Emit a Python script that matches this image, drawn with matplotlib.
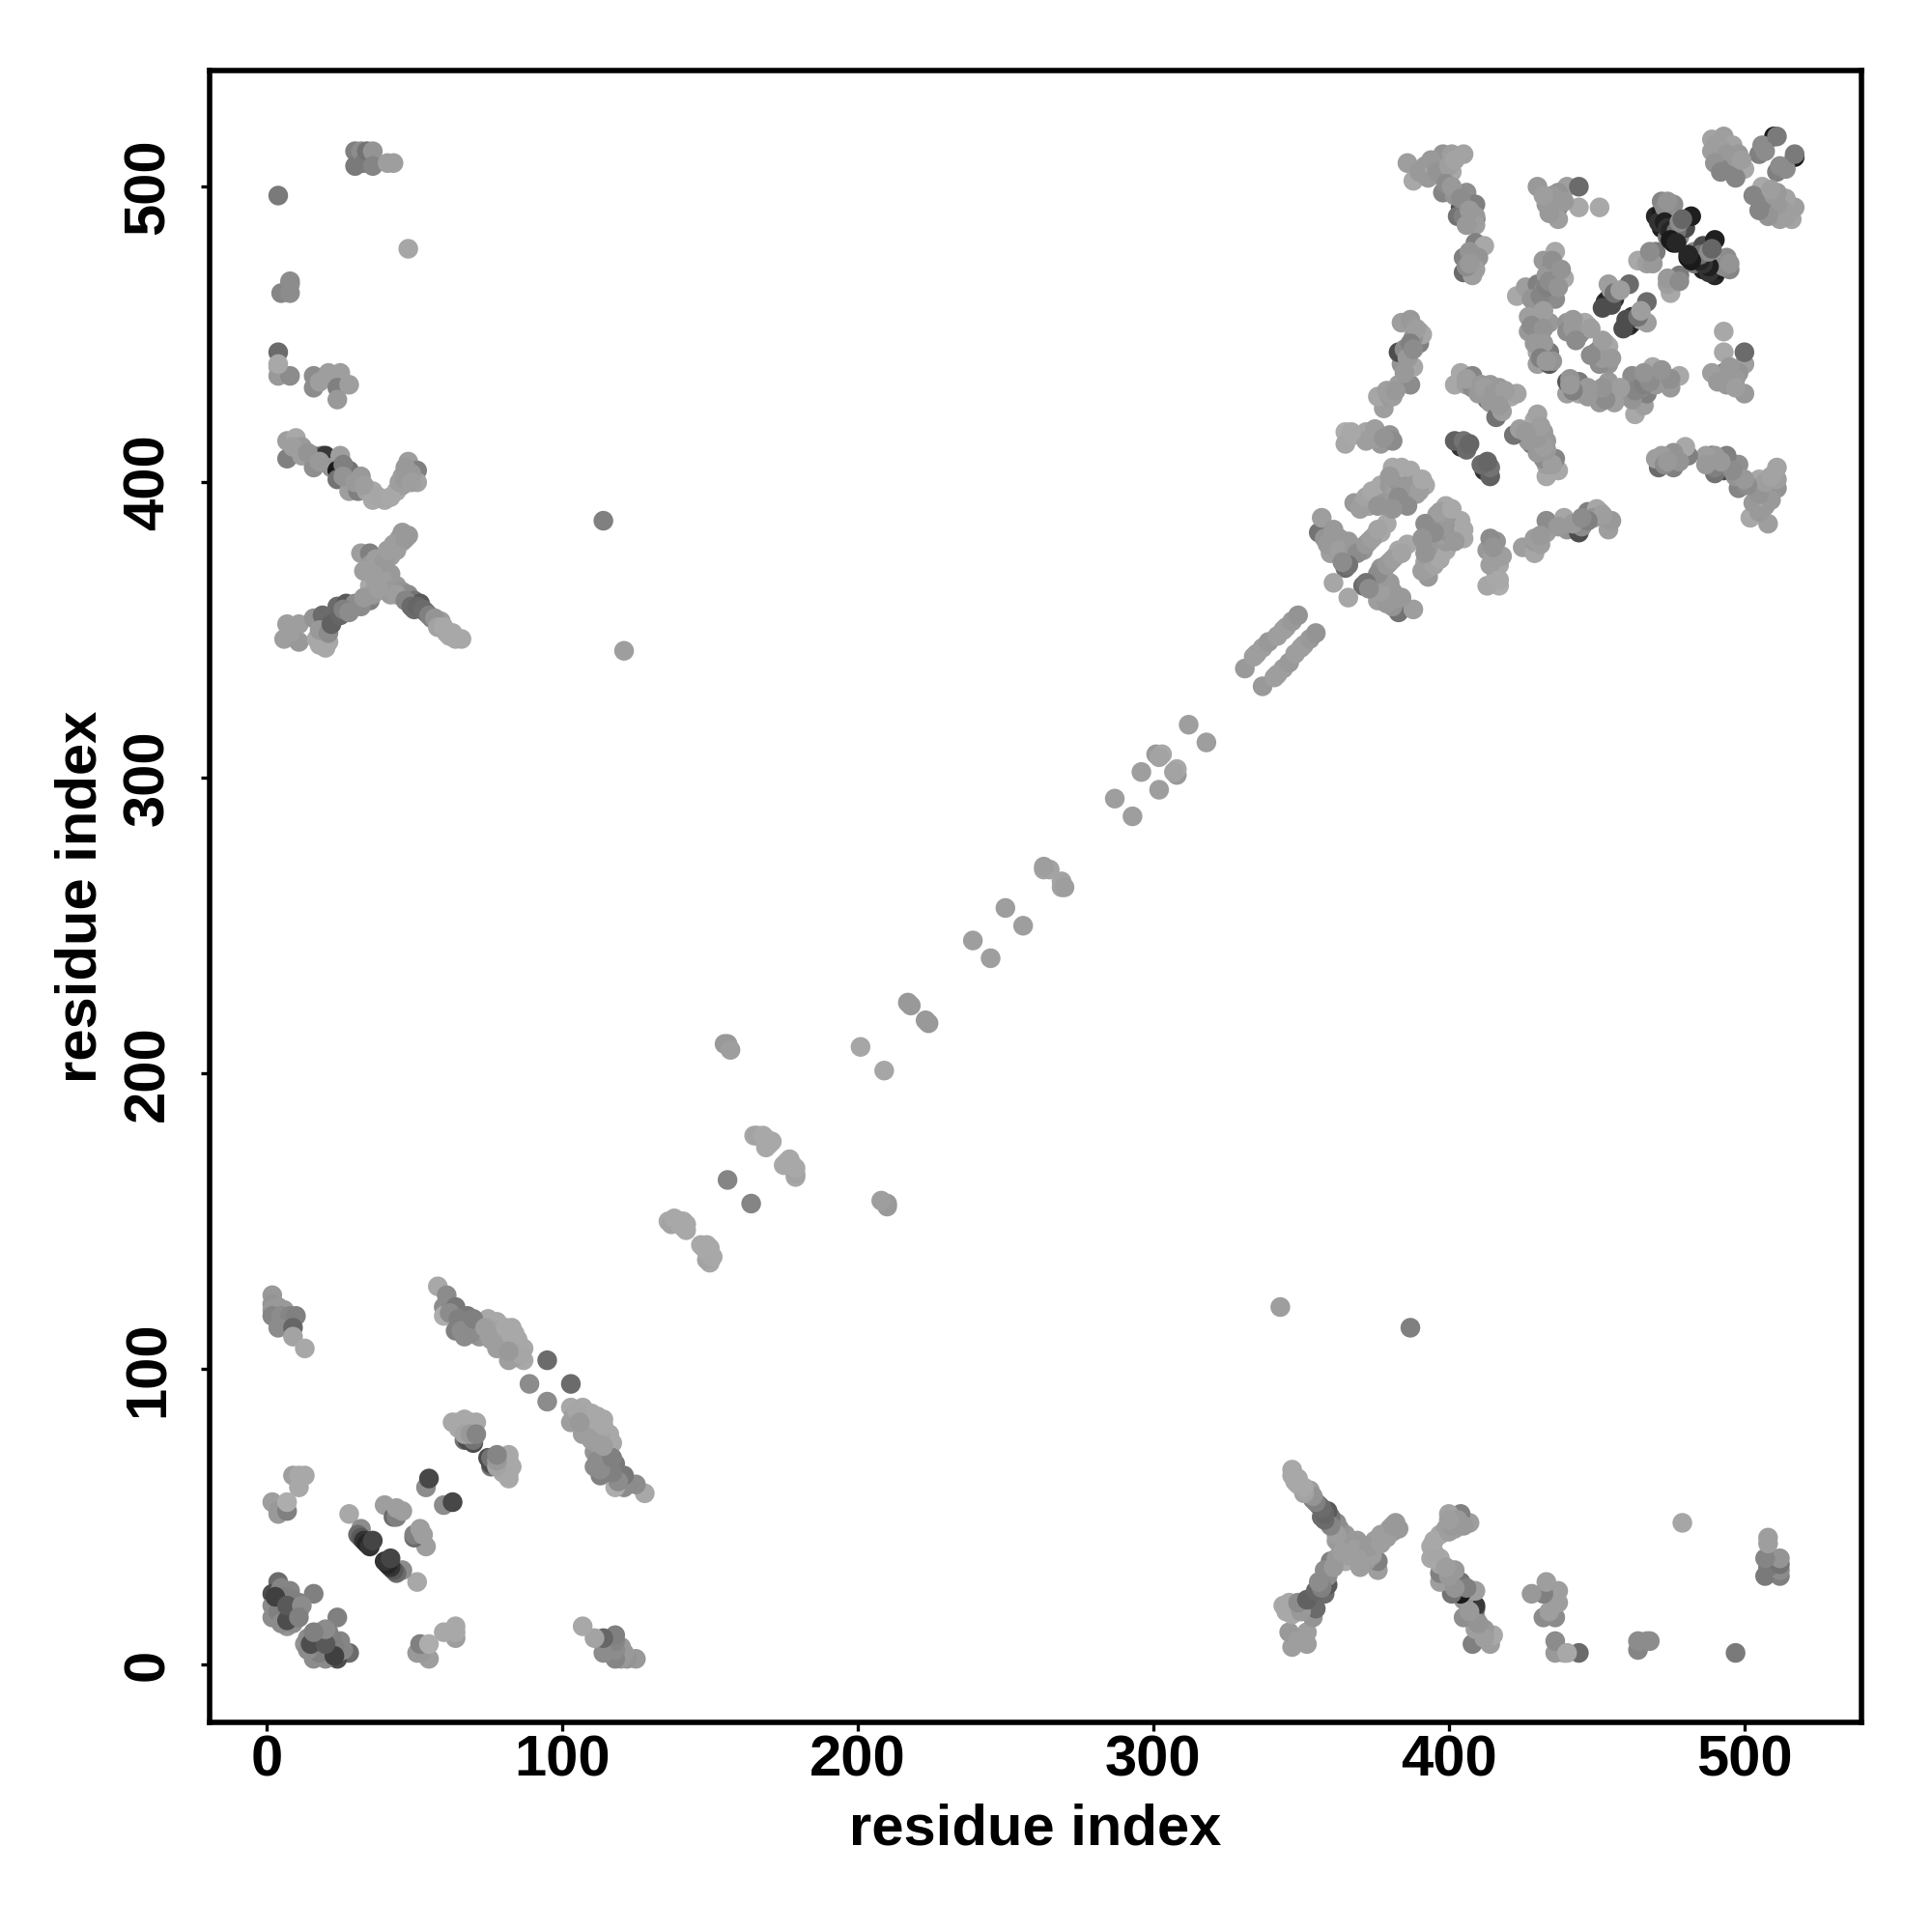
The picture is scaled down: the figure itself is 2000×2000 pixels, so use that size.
import matplotlib
matplotlib.use("Agg")
import matplotlib.pyplot as plt

# contacts as (residue_i, residue_j, grey level); the map is symmetric
termini_a = [(2,125,.6),(2,122,.58),(4,121,.6),(2,120,.6),(6,120,.6),(2,118,.52),(5,118,.55),(8,118,.52),(10,118,.5),(4,114,.55),(9,114,.4),(9,111,.64),(13,107,.66)]
hairpin_a = [(58,128,.66),(61,125,.55),(60,121,.55),(64,121,.47),(60,118,.68),(68,118,.47),(64,113,.5),(67,111,.55),(66,116,.6),(70,115,.6),(72,115,.58),(72,111,.58),(75,117,.66),(78,116,.66),(78,113,.64),(75,112,.62),(78,107,.62),(80,110,.64),(83,114,.66),(84,112,.66),(83,107,.64),(85,110,.66),(87,107,.66),(85,105,.65),(82,103,.62),(87,103,.66),(95,103,.42),(89,95,.55),
             (62,119,.55),(65,117,.5),(66,113,.55),(69,112,.55),(70,117,.5),(74,114,.62),(76,110,.62),(81,114,.66),(81,108,.62),(83,111,.66),(84,104,.62),(86,105,.65),(82,106,.6)]
hairpin_b = [(67,76,.45),(68,76,.3),(69,76,.3),(70,75,.3),(70,76,.45),(63,82,.66),(65,82,.66),(67,83,.66),(69,82,.66),(71,82,.66),(65,80,.66),(67,78,.64),(69,78,.6),(71,78,.52)]
short_a = [(9,64,.62),(11,64,.66),(13,64,.66),(11,60,.66),(2,55,.62),(4,52,.6),(4,51,.6),(7,52,.5),(7,55,.68)]
short_b = [(28,51,.66),(32,46,.55),(31,44,.42),(32,43,.35),(33,42,.2),(34,41,.15),(35,40,.2),(36,42,.27),(40,54,.62),(43,50,.42),(44,50,.5),(44,53,.62),(46,52,.62),(54,60,.55),(55,63,.28)]
short_c = [(4,28,.42),(2,24,.3),(3,21,.55),(2,20,.55),(2,16,.55),(4,24,.5),(5,21,.35),(6,17,.3),(7,19,.4),(8,25,.52),(8,20,.5),(11,21,.5),(7,13,.58),(10,16,.5),(16,24,.5),
           (5,26,.52),(6,23,.5),(4,18,.5),(9,22,.5),(11,18,.5),(5,14,.55),(8,15,.45),(9,14,.55),(3,23,.25),(7,15,.3),(7,20,.35),(12,20,.55),(11,16,.5)]
short_d = [(156,210,.6),(155,210,.6),(157,208,.62),(201,209,.65),(156,164,.52)]
beta_a = [(136,150,.66),(137,149,.64),(138,151,.66),(140,149,.66),(141,150,.66),(142,149,.66),(142,147,.66),(141,148,.66)]
beta_b = [(165,179,.66),(166,179,.64),(168,179,.66),(169,178,.66),(170,176,.66),(171,177,.66),(169,175,.66)]
helix_a = [(217,224,.6),(218,223,.6),(239,245,.62),(250,256,.62),(263,269,.64),(265,269,.64),(263,270,.62),(287,293,.62),(296,302,.62),(301,308,.6),(303,308,.66),(302,307,.64),(312,318,.62)]
helix_b = [(331,337,.6),(334,341,.62),(335,342,.62),(337,344,.62),(339,346,.6),(342,348,.62),(344,350,.62),(345,351,.62),(347,353,.6),(349,355,.58)]
single = [(121,343,.62),(114,387,.5),(48,479,.65),(4,497,.48)]
block_a = [(356,383,.45),(357,388,.62),(358,381,.58),(361,382,.62),(363,381,.6),(366,380,.6),(360,376,.62),(362,378,.6),(365,371,.42),(367,375,.66),(361,366,.65),(365,376,.6),(371,377,.58),(373,380,.62),(375,382,.64),(377,383,.66),(379,386,.66),
           (359,379,.6),(363,377,.62),(368,378,.6),(369,376,.55),(366,372,.45),(364,373,.55),(361,384,.6),(372,379,.6),(374,381,.62),(376,384,.64)]
block_b = [(386,401,.4),(368,393,.6),(371,393,.64),(373,392,.64),(375,396,.66),(377,399,.66),(379,392,.6),(381,405,.66),(383,403,.6),(384,393,.6),(387,404,.66),(386,396,.6),(389,396,.62),(392,399,.66),(382,392,.6),(386,392,.55),
           (370,391,.62),(372,395,.64),(374,397,.66),(380,399,.6),(382,397,.62),(383,400,.58),(385,398,.6),(388,399,.6),(390,397,.62),(391,401,.66),(384,405,.66),(380,402,.6),(378,393,.6),(376,392,.58),(383,395,.55),(381,391,.58)]
block_c = [(365,417,.68),(365,413,.65),(368,416,.66),(372,417,.65),(375,418,.62),(377,413,.6),(380,416,.58),(381,414,.55),(377,429,.6),(378,425,.62),(376,429,.65),(380,429,.6),(381,429,.62),(383,433,.62),(387,433,.55),(384,440,.58),(388,439,.65),(383,444,.3),(385,445,.55),(390,447,.5),(390,451,.6),(384,454,.62),(387,455,.6),(391,450,.65),
           (379,431,.62),(382,431,.6),(385,437,.6),(386,442,.6),(388,449,.58),(389,452,.62),(387,447,.5),(388,445,.55),(372,414,.62),(375,415,.62),(378,415,.58),(367,417,.66)]
block_d = [(404,493,.3),(409,489,.25),(408,473,.35),(386,508,.62),(388,502,.66),(390,505,.6),(392,507,.6),(393,503,.6),(395,507,.65),(398,511,.58),(398,505,.62),(401,511,.62),(401,505,.66),(405,511,.64),(398,498,.52),(402,497,.58),(403,490,.45),(406,498,.56),(409,494,.5),(409,490,.6),(409,487,.62),(405,490,.5),(405,476,.5),(405,471,.42),(408,470,.62),(409,481,.5),(412,480,.66),(410,476,.58),(409,472,.62),
           (394,509,.6),(396,505,.58),(400,507,.62),(402,509,.64),(399,501,.55),(401,500,.6),(404,496,.55),(407,492,.6),(406,487,.6),(407,478,.58),(406,473,.55),(407,474,.6)]
block_e = [(404,412,.2),(402,414,.38),(405,414,.45),(406,411,.42),(407,413,.4),(404,437,.66),(402,433,.66),(406,433,.62),(408,436,.52),(408,432,.55),(414,433,.6),(417,432,.6),(413,428,.42),(416,429,.6),(418,428,.62),(414,427,.6),(421,429,.66),(416,422,.45),(423,430,.64),(418,424,.62),
           (406,435,.62),(411,433,.6),(410,430,.6),(412,432,.62),(415,430,.6),(419,431,.62),(417,426,.6)]
block_f = [(430,500,.6),(440,500,.62),(444,500,.42),(433,494,.6),(437,498,.58),(437,493,.48),(437,489,.62),(444,493,.66),(451,493,.66),(423,463,.66),(426,466,.62),(430,467,.5),(432,465,.55),(429,461,.6),(431,460,.5),(434,463,.5),(436,478,.66),(432,475,.6),(435,473,.52),(436,470,.5),(433,470,.6),(439,469,.66),(436,462,.55),(427,451,.6),(430,455,.5),(434,454,.6),(431,450,.6),(430,444,.65),(434,444,.48),(430,440,.62),(434,440,.35),(435,441,.58),
           (428,462,.58),(431,463,.52),(433,466,.5),(434,468,.55),(437,466,.58),(435,475,.56),(438,472,.58),(432,458,.62),(427,456,.62),(428,453,.55),(432,452,.58),(429,447,.6),(432,447,.6),(431,442,.5),(433,441,.6),(435,497,.6),(434,491,.6),(432,497,.62),(439,495,.6)]
block_g = [(440,454,.58),(440,451,.55),(444,450,.3),(445,451,.55),(446,454,.66),(447,453,.66),(453,461,.2),(454,462,.15),(454,467,.62),(455,465,.62),(456,462,.22),(461,467,.42),
           (442,452,.6),(442,455,.6),(448,452,.62),(443,448,.55),(452,459,.3),(455,460,.3),(456,464,.45),(458,465,.62)]
core_a = [(470,490,.15),(472,491,.1),(472,486,.12),(471,488,.2),(472,495,.52),(476,494,.55),(475,489,.6),(474,483,.45),(476,481,.08),(478,483,.55),(477,487,.62),(480,486,.3),(482,490,.12),(470,478,.48),(467,475,.52),(464,475,.66),(467,474,.62),
          (473,493,.55),(474,495,.58),(473,488,.12),(474,486,.2),(475,485,.15),(477,485,.45),(478,488,.55),(479,489,.4),(475,482,.1),(477,481,.15),(469,474,.6),(468,478,.55)]
core_b = [(510,517,.1),(489,516,.64),(493,517,.62),(496,514,.64),(498,511,.6),(489,512,.62),(491,510,.6),(493,507,.62),(496,505,.45),(498,508,.55),(498,507,.62),(500,506,.66),(505,511,.5),(506,514,.55),(511,517,.48),
          (490,514,.62),(492,513,.62),(494,511,.6),(495,510,.6),(490,508,.58),(492,505,.52),(495,506,.52),(497,503,.52),(497,510,.6),(499,509,.62),(507,512,.55)]
distal_a = [(30,512,.5),(30,507,.48),(32,512,.55),(33,508,.48),(34,512,.45),(36,512,.58),(36,507,.52),(41,508,.62),(43,508,.62)]
distal_b = [(8,467,.58),(5,464,.52),(8,464,.55),(4,444,.42),(4,439,.66),(4,436,.6),(8,436,.55),(16,436,.55),(16,432,.55),(18,434,.62),(21,437,.62),(25,437,.62),(24,432,.5),(28,433,.62),(24,428,.6)]
distal_c = [(7,414,.62),(10,415,.66),(7,408,.5),(12,412,.6),(12,409,.62),(16,409,.58),(16,405,.56),(19,409,.4),(20,409,.22),(22,405,.58),(25,409,.62),(24,404,.1),(24,401,.45),(28,404,.45),(28,397,.62),(32,402,.6),(31,397,.5),(34,397,.64),(36,397,.66),(36,394,.66),(40,394,.66),(44,397,.66),(46,399,.62),(46,402,.62),(48,407,.62),(51,404,.5),(51,400,.64),
            (9,412,.62),(14,410,.58),(18,407,.6),(26,406,.5),(26,402,.58),(30,400,.6),(33,399,.62),(38,395,.65),(42,395,.66),(45,400,.62),(47,405,.6),(49,403,.6),(47,401,.6),(49,400,.62)]
cross_a = [(7,352,.62),(11,352,.62),(6,347,.62),(11,346,.6),(8,349,.62),(17,347,.66),(20,344,.66),(19,348,.65),(16,354,.58),(23,354,.35),(19,355,.42),(20,352,.42),(24,358,.42),(27,359,.35),(30,359,.55),(35,360,.5),(35,365,.66),
           (18,345,.66),(21,346,.66),(18,350,.6),(21,349,.55),(22,352,.38),(25,355,.4),(26,357,.5),(28,356,.55),(32,358,.55),(33,361,.6),(36,362,.6)]
cross_b = [(32,376,.62),(35,376,.5),(35,372,.6),(39,371,.62),(42,375,.62),(43,379,.62),(45,381,.62),(46,383,.6),(48,382,.6),(42,369,.6),(40,365,.6),(42,362,.62),(44,365,.6),(46,363,.58),(48,362,.55),(50,360,.45),(52,359,.35),(50,357,.42),(54,356,.4),(56,354,.5),(59,353,.62),(61,349,.66),(64,347,.66),(66,347,.66),
           (37,374,.62),(38,369,.6),(37,366,.62),(39,368,.62),(40,373,.6),(41,377,.62),(44,377,.62),(46,380,.62),(47,381,.6),(41,363,.6),(44,362,.62),(47,360,.52),(49,358,.42),(51,358,.4),(53,357,.42),(55,355,.5),(57,354,.58),(58,351,.64),(60,351,.66),(62,348,.66),(63,349,.66),(33,370,.62),(36,369,.62),(38,364,.62)]
short_e = [(8,468,.55),(4,440,.66)]

regions = [termini_a, hairpin_a, hairpin_b, short_a, short_b, short_c, short_d, beta_a, beta_b, helix_a, helix_b, single,
           block_a, block_b, block_c, block_d, block_e, block_f, block_g, core_a, core_b,
           distal_a, distal_b, distal_c, cross_a, cross_b, short_e]

tick_values = [0, 100, 200, 300, 400, 500]
axis_label = "residue index"

plt.rcParams["font.family"] = ["Liberation Sans", "DejaVu Sans"]
fig = plt.figure(figsize=(10, 10), dpi=200)
ax = fig.add_axes([217/2000, 1 - 1783/2000, 1710/2000, 1710/2000])

for region in regions:
    xs = [p[0] for p in region] + [p[1] for p in region]
    ys = [p[1] for p in region] + [p[0] for p in region]
    cs = [str(p[2]) for p in region] * 2
    ax.scatter(xs, ys, s=54, c=cs, linewidths=0, zorder=2)

ax.set_xlim(-19.2, 539.6)
ax.set_ylim(-19.5, 539.3)
ax.set_xticks(tick_values)
ax.set_yticks(tick_values)
ax.tick_params(axis="x", length=3.2, width=1.2, labelsize=21.5, pad=1.4)
ax.tick_params(axis="y", length=3.2, width=1.2, labelsize=21.5, pad=9.6)
for lab in ax.get_xticklabels():
    lab.set_fontweight("bold")
for lab in ax.get_yticklabels():
    lab.set_fontweight("bold")
    lab.set_rotation(90)
    lab.set_va("center")
for spine in ax.spines.values():
    spine.set_linewidth(2.0)
ax.set_xlabel(axis_label, fontsize=21.5, fontweight="bold", labelpad=5.5)
ax.set_ylabel(axis_label, fontsize=21.5, fontweight="bold", labelpad=5.2)
fig.savefig("out.png", dpi=200, facecolor="white")
